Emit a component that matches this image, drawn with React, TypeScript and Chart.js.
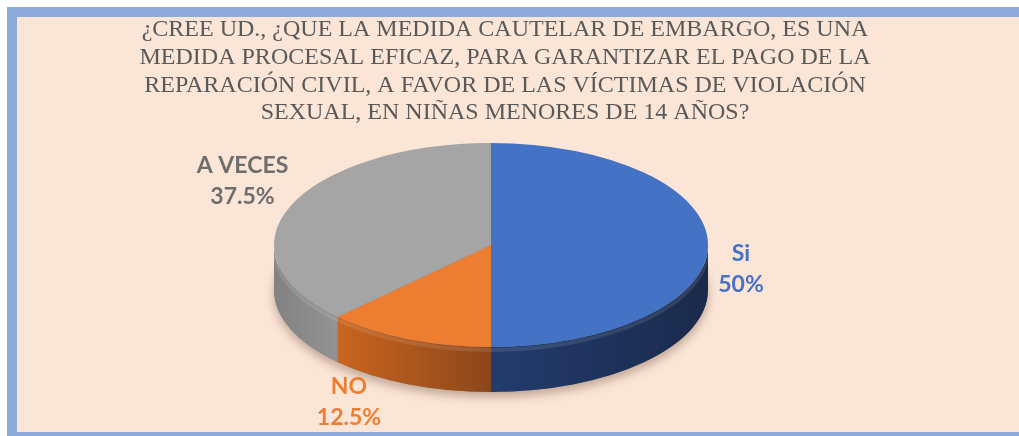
import React, { useEffect, useRef } from 'react';
import { Chart, registerables } from 'chart.js';

Chart.register(...registerables);

// ---- data ----
const categories = ['Si', 'NO', 'A VECES'];
const percentages = [50, 12.5, 37.5];
const percentLabels = ['50%', '12.5%', '37.5%'];
const titleLines = [
  '¿CREE UD., ¿QUE LA MEDIDA CAUTELAR DE EMBARGO, ES UNA',
  'MEDIDA PROCESAL EFICAZ, PARA GARANTIZAR EL PAGO DE LA',
  'REPARACIÓN CIVIL, A FAVOR DE LAS VÍCTIMAS DE VIOLACIÓN',
  'SEXUAL, EN NIÑAS MENORES DE 14 AÑOS?',
];

// ---- style ----
const topColors = ['#4472c4', '#ed7d31', '#a5a5a5'];
const wallColors = [
  ['#233c6e', '#1a2a4a'],
  ['#c9651f', '#8c461a'],
  ['#828282', '#939393'],
];
const labelColors = ['#4472c4', '#ed7d31', '#6e6e6e'];
const labelOffsets = [
  [33, 24],
  [-59, 63],
  [-48, -25],
];
const PIE = { rx: 217, ry: 102, depth: 45, shiftX: -14 };

const TAU = Math.PI * 2;

const pie3d = {
  id: 'pie3d',
  beforeDatasetsDraw(chart: any) {
    const meta = chart.getDatasetMeta(0);
    const arcs = meta.data as any[];
    if (!arcs.length) return;
    const a0 = arcs[0];
    const r = a0.outerRadius;
    const cx = a0.x + PIE.shiftX;
    const cy = a0.y;
    const { rx, ry, depth } = PIE;
    const ctx = chart.ctx as CanvasRenderingContext2D;

    // soft shadow under the pie
    ctx.save();
    ctx.shadowColor = 'rgba(80,50,30,0.35)';
    ctx.shadowBlur = 10;
    ctx.shadowOffsetY = 5;
    ctx.beginPath();
    ctx.ellipse(cx, cy + depth, rx, ry, 0, 0, TAU);
    ctx.fillStyle = '#7f7f7f';
    ctx.fill();
    ctx.restore();

    // side walls (front half only)
    arcs.forEach((arc, i) => {
      const s = arc.startAngle;
      const e = arc.endAngle;
      for (let k = -1; k <= 1; k++) {
        const lo = Math.max(s, TAU * k);
        const hi = Math.min(e, TAU * k + Math.PI);
        if (hi <= lo) continue;
        const a = lo - TAU * k;
        const b = hi - TAU * k;
        const xa = cx + rx * Math.cos(a);
        const xb = cx + rx * Math.cos(b);
        const xl = Math.min(xa, xb);
        const xr = Math.max(xa, xb);
        const g = ctx.createLinearGradient(xl, 0, xr + 0.01, 0);
        g.addColorStop(0, wallColors[i][0]);
        g.addColorStop(1, wallColors[i][1]);
        ctx.beginPath();
        ctx.ellipse(cx, cy, rx, ry, 0, a, b);
        ctx.ellipse(cx, cy + depth, rx, ry, 0, b, a, true);
        ctx.closePath();
        ctx.fillStyle = g;
        ctx.fill();
        // subtle rim bevel
        ctx.save();
        ctx.beginPath();
        ctx.ellipse(cx, cy + 3, rx, ry, 0, a, b);
        ctx.strokeStyle = 'rgba(255,255,255,0.1)';
        ctx.lineWidth = 4;
        ctx.stroke();
        ctx.restore();
      }
    });

    // squash the flat pie into the tilted top face
    ctx.save();
    ctx.translate(cx, cy);
    ctx.scale(rx / r, ry / r);
    ctx.translate(-a0.x, -a0.y);
  },
  afterDatasetsDraw(chart: any) {
    const ctx = chart.ctx as CanvasRenderingContext2D;
    ctx.restore();
    const meta = chart.getDatasetMeta(0);
    const arcs = meta.data as any[];
    if (!arcs.length) return;
    const cx = arcs[0].x + PIE.shiftX;
    const cy = arcs[0].y;
    ctx.save();
    ctx.font = 'bold 23px Lato';
    ctx.textAlign = 'center';
    ctx.textBaseline = 'middle';
    arcs.forEach((arc, i) => {
      const m = (arc.startAngle + arc.endAngle) / 2;
      const x = cx + PIE.rx * Math.cos(m) + labelOffsets[i][0];
      const y = cy + PIE.ry * Math.sin(m) + labelOffsets[i][1];
      ctx.fillStyle = labelColors[i];
      ctx.fillText(categories[i], x, y - 15.5);
      ctx.fillText(percentLabels[i], x, y + 15.5);
    });
    ctx.restore();
  },
};

export default function App() {
  const ref = useRef<HTMLCanvasElement | null>(null);

  useEffect(() => {
    if (!ref.current) return;
    const chart = new Chart(ref.current, {
      type: 'pie',
      data: {
        labels: categories,
        datasets: [
          {
            data: percentages,
            backgroundColor: topColors,
            borderWidth: 0,
            clip: false as any,
          },
        ],
      },
      options: {
        responsive: false,
        animation: false,
        devicePixelRatio: 1,
        events: [],
        layout: { padding: { top: 16, bottom: 73, left: 0, right: 9 } },
        plugins: {
          legend: { display: false },
          tooltip: { enabled: false },
          title: {
            display: true,
            text: titleLines,
            color: '#595959',
            font: { family: '"Liberation Serif", "Times New Roman", serif', size: 24, weight: 'normal', lineHeight: 1.155 },
            padding: { top: 0, bottom: 0 },
          },
        },
      },
      plugins: [pie3d],
    });
    return () => chart.destroy();
  }, []);

  return (
    <div style={{ position: 'absolute', left: 0, top: 0, width: 1019, height: 436, overflow: 'hidden', background: '#ffffff' }}>
      <div
        style={{
          position: 'absolute',
          left: 7,
          top: 7,
          width: 1040,
          height: 435,
          boxSizing: 'border-box',
          border: '10px solid #8eaadb',
          background: '#fbe5d6',
        }}
      />
      <canvas ref={ref} width={1019} height={436} style={{ position: 'absolute', left: 0, top: 0 }} />
    </div>
  );
}
